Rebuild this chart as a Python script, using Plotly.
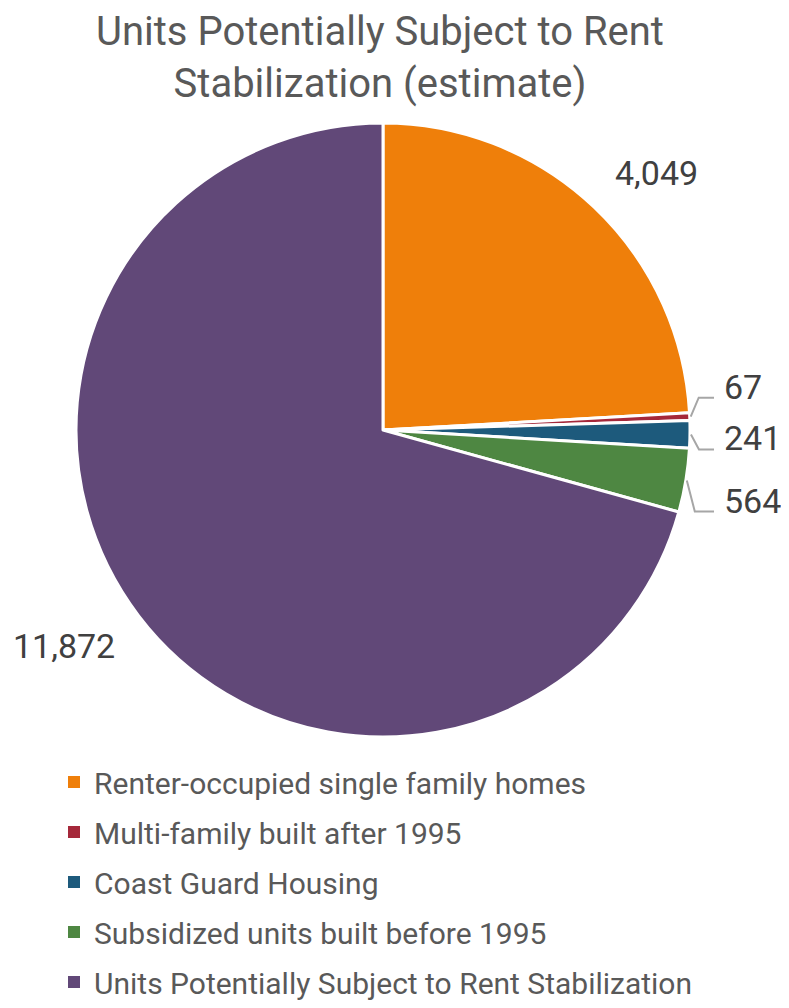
import math
import plotly.graph_objects as go

# ---- data ----
categories = [
    "Renter-occupied single family homes",
    "Multi-family built after 1995",
    "Coast Guard Housing",
    "Subsidized units built before 1995",
    "Units Potentially Subject to Rent Stabilization",
]
values = [4049, 67, 241, 564, 11872]
colors = ["#EF7F0A", "#A5283A", "#1D5A7C", "#4E8742", "#614878"]
title_text = "Units Potentially Subject to Rent<br>Stabilization (estimate)"

# ---- layout constants (pixels, in the 789x1008 window) ----
W, H = 789, 1008
OFF = 8                      # page body margin of the html page
CX, CY, R = 383, 430, 307
LABEL_FONT = "Roboto, Arial, sans-serif"
TEXT_GRAY = "#595959"
LABEL_GRAY = "#404040"
LEADER = "#A6A6A6"
LABEL_SIZE = 34
# leader elbow vertical offsets for the thin slices (style only)
leader_dy = {1: -19, 2: 15, 3: 31}

FW, FH = W - OFF, H - OFF


def px(x):
    return (x - OFF) / FW


def py(y):
    return 1 - (y - OFF) / FH


fig = go.Figure()
fig.add_trace(go.Pie(
    labels=categories,
    values=values,
    sort=False,
    direction="clockwise",
    rotation=0,
    marker=dict(colors=colors, line=dict(color="white", width=3)),
    textinfo="none",
    hoverinfo="label+value",
    showlegend=False,
    domain=dict(x=[px(CX - R), px(CX + R)], y=[py(CY + R), py(CY - R)]),
))

# legend entries (one per category, square markers)
for i, (cat, col) in enumerate(zip(categories, colors)):
    fig.add_trace(go.Scatter(
        x=[None], y=[None], mode="markers", name=cat,
        marker=dict(symbol="square", size=12, color=col),
        legendgroup=f"g{i}", showlegend=True,
    ))

# value labels computed from slice angles
total = sum(values)
annotations = []
shapes = []
cum = 0
for i, v in enumerate(values):
    mid = (cum + v / 2) / total * 2 * math.pi
    cum += v
    s, c = math.sin(mid), math.cos(mid)
    text = f"{v:,}"
    font = dict(size=LABEL_SIZE, color=LABEL_GRAY, family=LABEL_FONT)
    if i in leader_dy:
        x0, y0 = CX + (R + 1) * s, CY - (R + 1) * c
        dy = leader_dy[i]
        x1, y1 = x0 + 8, y0 + dy
        x2 = CX + R + 24
        path = f"M {px(x0)},{py(y0)} L {px(x1)},{py(y1)} L {px(x2)},{py(y1)}"
        shapes.append(dict(type="path", path=path, xref="paper", yref="paper",
                           line=dict(color=LEADER, width=2)))
        annotations.append(dict(
            x=px(x2 + 8), y=py(y1 - 11), xref="paper", yref="paper",
            text=text, showarrow=False, xanchor="left", yanchor="middle",
            font=font))
    else:
        # label box corner sits just outside the rim at the slice mid-angle
        d = R + 30
        ax, ay = CX + d * s, CY - d * c
        ndig = sum(ch.isdigit() for ch in text)
        w = (ndig * 0.562 + text.count(",") * 0.2) * LABEL_SIZE
        h = 0.72 * LABEL_SIZE
        lx = ax + math.copysign(w / 2, s)
        ly = ay - math.copysign(h / 2, c)
        annotations.append(dict(
            x=px(lx), y=py(ly), xref="paper", yref="paper",
            text=text, showarrow=False, xanchor="center", yanchor="middle",
            font=font))

fig.update_layout(
    width=FW, height=FH,
    margin=dict(l=0, r=0, t=0, b=0, autoexpand=False),
    paper_bgcolor="white", plot_bgcolor="white",
    title=dict(text=title_text, x=px(380), xanchor="center",
               y=py(45), yanchor="middle",
               font=dict(size=40, color=TEXT_GRAY, family=LABEL_FONT)),
    xaxis=dict(visible=False), yaxis=dict(visible=False),
    legend=dict(x=px(54), xanchor="left", y=py(756), yanchor="top",
                font=dict(size=30, color=TEXT_GRAY, family=LABEL_FONT),
                tracegroupgap=8, itemsizing="constant",
                bgcolor="rgba(0,0,0,0)"),
    annotations=annotations,
    shapes=shapes,
)

fig.write_html("out.html")
